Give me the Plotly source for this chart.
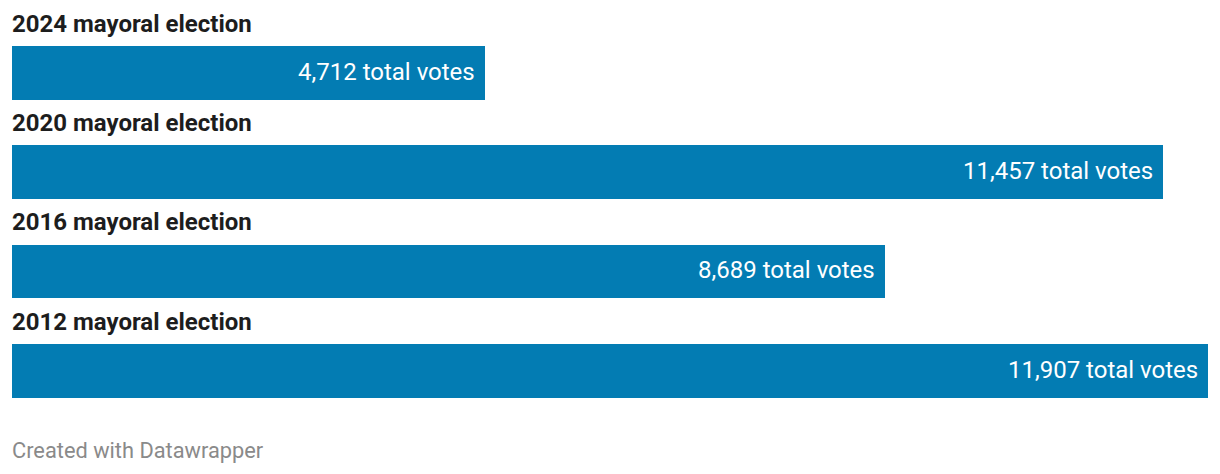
import plotly.graph_objects as go

categories = ["2024 mayoral election", "2020 mayoral election", "2016 mayoral election", "2012 mayoral election"]
votes = [4712, 11457, 8689, 11907]
value_labels = [f"{v:,} total votes" for v in votes]
footer = "Created with Datawrapper"

BAR = "#037cb3"
FONT = "Roboto, Arial, sans-serif"

# page body has an 8px default margin; figure sized to fit the 1220x474 window
W, H = 1212, 466

fig = go.Figure()
fig.add_trace(go.Bar(
    y=categories, x=votes, orientation="h",
    marker=dict(color=BAR, line=dict(width=0)),
    width=0.54, hoverinfo="skip",
))

for cat, v, lab in zip(categories, votes, value_labels):
    fig.add_annotation(x=v, y=cat, xref="x", yref="y", text=lab, showarrow=False,
                       xanchor="right", yanchor="middle", xshift=-8, yshift=1,
                       font=dict(family=FONT, size=24, color="white"))
    fig.add_annotation(x=0, y=cat, xref="x", yref="y", text=f"<b>{cat}</b>", showarrow=False,
                       xanchor="left", yanchor="middle", xshift=-2, yshift=49,
                       font=dict(family=FONT, size=24, color="#1d1d1d"))

fig.add_annotation(x=0, y=1 - 442 / H, xref="paper", yref="paper", text=footer,
                   showarrow=False, xanchor="left", yanchor="middle", xshift=-2,
                   font=dict(family=FONT, size=21.8, color="#8a8a8a"))

fig.update_layout(
    width=W, height=H,
    margin=dict(l=4, r=12, t=0, b=0),
    paper_bgcolor="white", plot_bgcolor="white",
    showlegend=False,
    xaxis=dict(range=[0, 11907], visible=False, fixedrange=True),
    yaxis=dict(type="category", categoryorder="array", categoryarray=categories,
               range=[4.0395, -0.6519], visible=False, fixedrange=True),
    bargap=0,
)

fig.write_html("out.html", config={"displayModeBar": False})
